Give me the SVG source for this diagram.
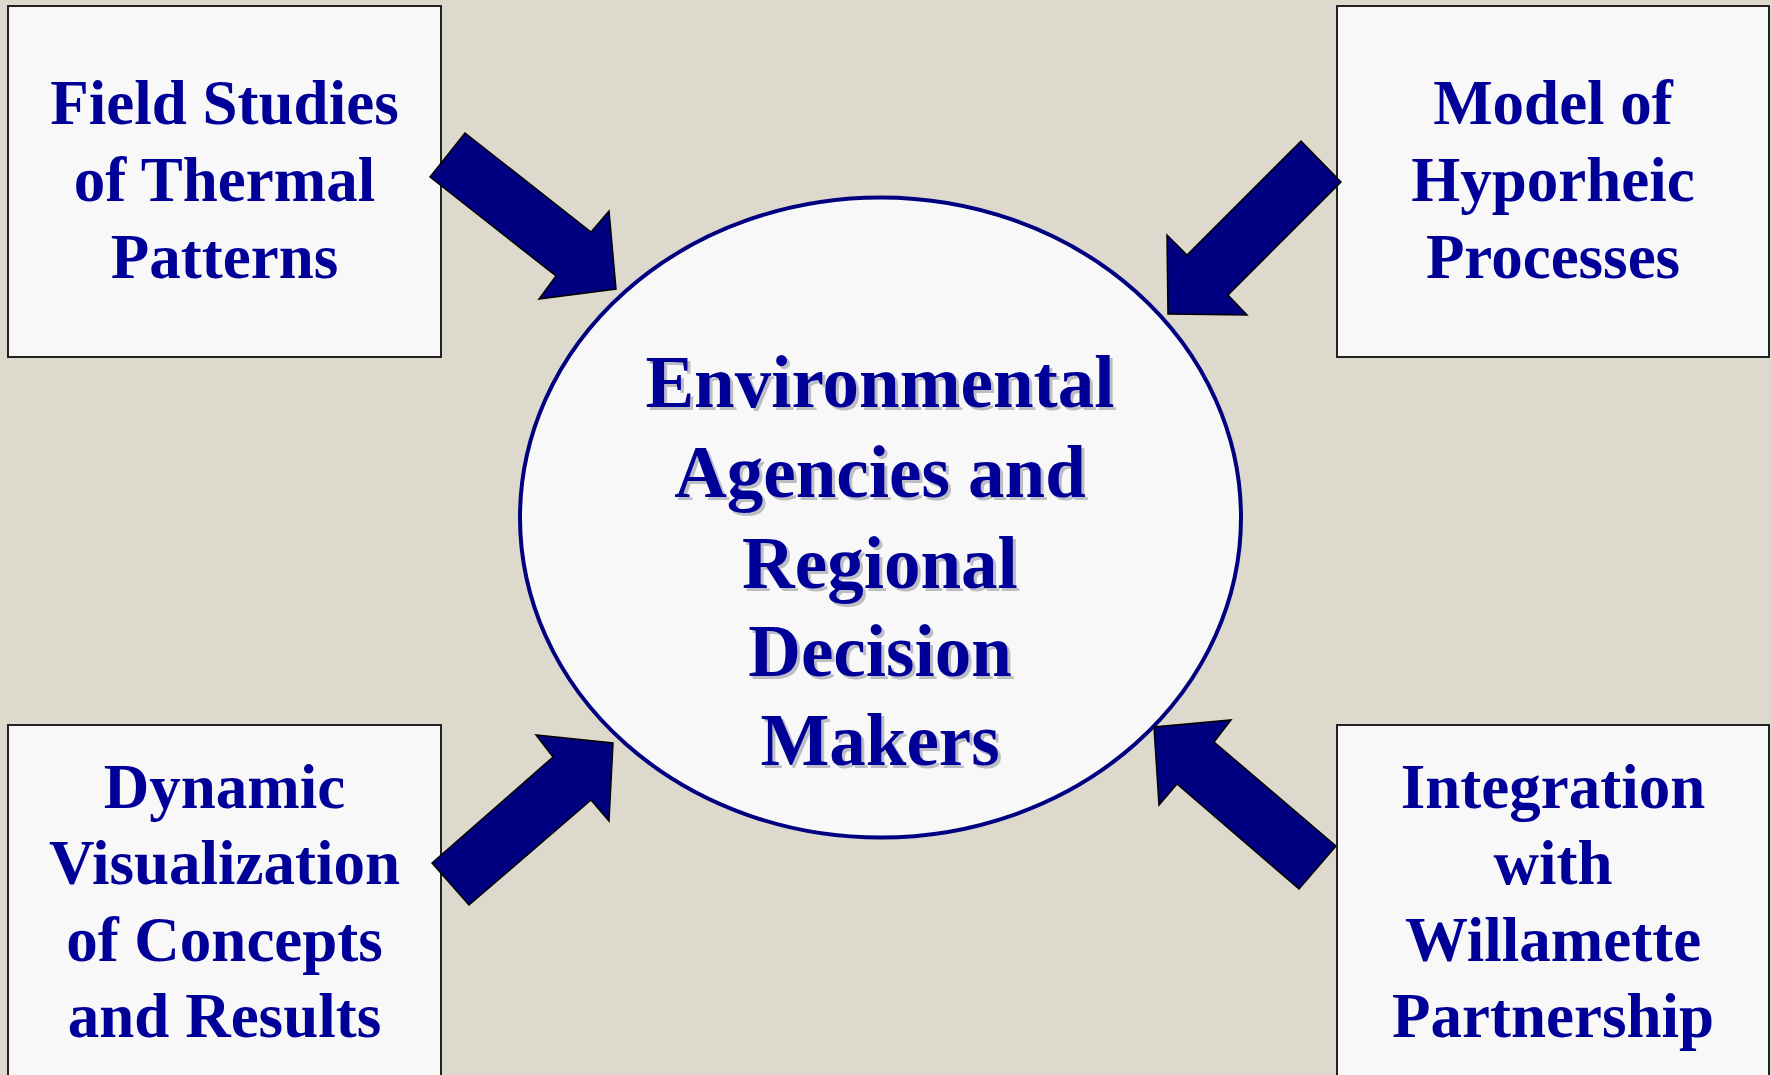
<svg xmlns="http://www.w3.org/2000/svg" width="1772" height="1075" viewBox="0 0 1772 1075">
  <style>
    .box { fill: #f8f8f8; stroke: #222222; stroke-width: 2; }
    .lbl { font-family: "Liberation Serif", "Times New Roman", serif; font-weight: bold; font-size: 63px; fill: #000099; text-anchor: middle; }
    .hub { font-family: "Liberation Serif", "Times New Roman", serif; font-weight: bold; font-size: 73px; text-anchor: middle; }
    .hub-shadow { fill: #bdbdc6; }
    .hub-text { fill: #000099; }
    .arrow { fill: #000080; stroke: #000000; stroke-width: 1.5; stroke-linejoin: miter; }
  </style>

  <!-- backdrop -->
  <rect x="0" y="0" width="1772" height="1075" fill="#ddd9cd"/>

  <!-- central node -->
  <g id="decision-makers">
    <ellipse cx="880.5" cy="517.5" rx="360.5" ry="320" fill="#f8f8f8" stroke="#000080" stroke-width="4"/>
    <g class="hub hub-shadow" transform="translate(3,3)">
      <text x="880" y="407">Environmental</text>
      <text x="880" y="497">Agencies and</text>
      <text x="880" y="588">Regional</text>
      <text x="880" y="676">Decision</text>
      <text x="880" y="765">Makers</text>
    </g>
    <g class="hub hub-text">
      <text x="880" y="407">Environmental</text>
      <text x="880" y="497">Agencies and</text>
      <text x="880" y="588">Regional</text>
      <text x="880" y="676">Decision</text>
      <text x="880" y="765">Makers</text>
    </g>
  </g>

  <!-- input nodes -->
  <g id="field-studies">
    <rect class="box" x="8" y="6" width="433" height="351"/>
    <text class="lbl" x="224.5" y="124">Field Studies</text>
    <text class="lbl" x="224.5" y="201">of Thermal</text>
    <text class="lbl" x="224.5" y="278">Patterns</text>
  </g>

  <g id="hyporheic-model">
    <rect class="box" x="1337" y="6" width="432" height="351"/>
    <text class="lbl" x="1553" y="124">Model of</text>
    <text class="lbl" x="1553" y="201">Hyporheic</text>
    <text class="lbl" x="1553" y="278">Processes</text>
  </g>

  <g id="visualization">
    <rect class="box" x="8" y="725" width="433" height="360"/>
    <text class="lbl" x="224.5" y="808">Dynamic</text>
    <text class="lbl" x="224.5" y="884">Visualization</text>
    <text class="lbl" x="224.5" y="961">of Concepts</text>
    <text class="lbl" x="224.5" y="1037">and Results</text>
  </g>

  <g id="willamette">
    <rect class="box" x="1337" y="725" width="432" height="360"/>
    <text class="lbl" x="1553" y="808">Integration</text>
    <text class="lbl" x="1553" y="884">with</text>
    <text class="lbl" x="1553" y="961">Willamette</text>
    <text class="lbl" x="1553" y="1037">Partnership</text>
  </g>

  <!-- block arrows pointing into the central node -->
  <g id="connectors">
    <polygon class="arrow" points="430,177 465,133 591,232 609,211 616,289 539,299 556,276"/>
    <polygon class="arrow" points="1301,141 1341,182 1228,295 1247,315 1168,314 1167,235 1187,255"/>
    <polygon class="arrow" points="432,863 469,905 591,800 609,821 613,743 536,735 553,757"/>
    <polygon class="arrow" points="1336,846 1299,889 1177,784 1159,805 1154,727 1231,720 1214,742"/>
  </g>
</svg>
